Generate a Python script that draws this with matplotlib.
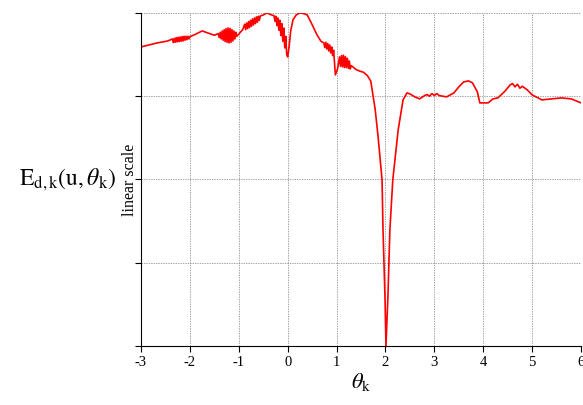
import numpy as np
import matplotlib
matplotlib.use('Agg')
import matplotlib.pyplot as plt

plt.rcParams['font.family'] = ['Liberation Serif', 'DejaVu Serif']
plt.rcParams['mathtext.fontset'] = 'stix'

# 读图得到的曲线点 (theta_k, 线性刻度下的 E)
theta = [-3.00, -2.67, -2.45,
         -2.36, -2.34, -2.32, -2.30, -2.28, -2.26, -2.24, -2.22, -2.20, -2.18,
         -2.16, -2.14, -2.12, -2.10, -2.08, -2.06, -2.04, -2.02, -2.00,
         -1.90, -1.75, -1.60, -1.50,
         -1.42, -1.40, -1.38, -1.36, -1.34, -1.32, -1.30, -1.28, -1.26, -1.24,
         -1.22, -1.20, -1.18, -1.16, -1.14, -1.12, -1.10, -1.08, -1.06, -1.04,
         -0.98, -0.92,
         -0.88, -0.86, -0.84, -0.82, -0.80, -0.78, -0.76, -0.74, -0.72, -0.70,
         -0.68, -0.66, -0.64, -0.62, -0.60, -0.58, -0.56,
         -0.50, -0.42, -0.35,
         -0.28, -0.26, -0.24, -0.22, -0.20, -0.18, -0.16, -0.14, -0.12, -0.10,
         -0.08, -0.06, -0.04, -0.02, 0.00,
         0.03, 0.06, 0.11, 0.18, 0.25, 0.33, 0.40, 0.50, 0.60, 0.68,
         0.74, 0.76, 0.78, 0.80, 0.82, 0.84, 0.86, 0.88, 0.90, 0.92, 0.94, 0.96, 0.975,
         1.02, 1.04, 1.06, 1.08, 1.10, 1.12, 1.14, 1.16, 1.18, 1.20, 1.22, 1.24,
         1.26, 1.28, 1.30,
         1.40, 1.48, 1.55, 1.63, 1.70, 1.745, 1.79, 1.848, 1.93, 1.95,
         1.99, 2.01, 2.05, 2.09, 2.15, 2.26, 2.36, 2.44, 2.50, 2.60,
         2.70, 2.80, 2.85, 2.90, 2.95, 3.00, 3.05, 3.10, 3.25, 3.40,
         3.50, 3.60, 3.70, 3.78, 3.88, 3.93, 4.00, 4.10, 4.20, 4.30,
         4.45, 4.55, 4.60, 4.65, 4.70, 4.75, 4.80, 4.90, 5.00, 5.20,
         5.40, 5.60, 5.80, 6.00]
energy = [0.898, 0.910, 0.916,
          0.922, 0.911, 0.924, 0.912, 0.926, 0.913, 0.927, 0.914, 0.928, 0.915,
          0.929, 0.916, 0.930, 0.918, 0.930, 0.920, 0.930, 0.922, 0.929,
          0.935, 0.946, 0.938, 0.933,
          0.938, 0.926, 0.942, 0.922, 0.946, 0.918, 0.950, 0.914, 0.953, 0.912,
          0.955, 0.910, 0.954, 0.912, 0.950, 0.916, 0.946, 0.922, 0.942, 0.930,
          0.940, 0.950,
          0.966, 0.950, 0.970, 0.953, 0.974, 0.956, 0.978, 0.960, 0.982, 0.964,
          0.985, 0.968, 0.988, 0.972, 0.990, 0.978, 0.991,
          0.994, 1.000, 0.995,
          0.992, 0.975, 0.990, 0.962, 0.985, 0.948, 0.978, 0.932, 0.968, 0.915,
          0.955, 0.895, 0.930, 0.875, 0.868,
          0.900, 0.945, 0.980, 0.995, 1.000, 0.998, 0.994, 0.965, 0.934, 0.915,
          0.910, 0.896, 0.912, 0.892, 0.908, 0.886, 0.904, 0.880, 0.898, 0.872, 0.888, 0.845, 0.814,
          0.832, 0.850, 0.868, 0.840, 0.872, 0.838, 0.873, 0.836, 0.869, 0.836, 0.864, 0.834,
          0.856, 0.832, 0.842,
          0.830, 0.825, 0.822, 0.812, 0.795, 0.752, 0.710, 0.630, 0.499, 0.348,
          0.147, 0.000, 0.147, 0.348, 0.499, 0.649, 0.739, 0.760, 0.757, 0.748,
          0.742, 0.752, 0.755, 0.750, 0.758, 0.752, 0.758, 0.752, 0.748, 0.760,
          0.778, 0.793, 0.796, 0.790, 0.763, 0.730, 0.730, 0.730, 0.742, 0.745,
          0.766, 0.784, 0.788, 0.778, 0.786, 0.774, 0.780, 0.769, 0.754, 0.739,
          0.742, 0.745, 0.742, 0.730]

xticks = [-3, -2, -1, 0, 1, 2, 3, 4, 5, 6]
yticks = [0, 0.25, 0.5, 0.75, 1.0]

fig = plt.figure(figsize=(5.83, 4.05), dpi=100)
ax = fig.add_axes([0.2419, 0.1457, 0.7547, 0.8223])
ax.plot(theta, energy, color='red', linewidth=1.2)
ax.set_xlim(-3, 6)
ax.set_ylim(0, 1)
ax.set_xticks(xticks)
ax.set_xticklabels([str(t) for t in xticks], fontsize=10.5)
ax.set_yticks(yticks)
ax.set_yticklabels([])
ax.grid(True, linestyle=(0, (2, 1.5)), color='gray', linewidth=0.5)
for s in ['top', 'right']:
    ax.spines[s].set_visible(False)
ax.tick_params(direction='out', length=4, width=0.8)
ax.set_ylabel('linear scale', fontsize=11.5)
ax.yaxis.set_label_coords(-0.008, 0.5)
ax.set_xlabel(r'$\theta_{\mathrm{k}}$', fontsize=16, labelpad=1)
fig.text(0.117, 0.555, r'$\mathrm{E}_{\mathrm{d,k}}(\mathrm{u},\theta_{\mathrm{k}})$',
         fontsize=17, ha='center', va='center')

plt.savefig('out.png', dpi=100)
